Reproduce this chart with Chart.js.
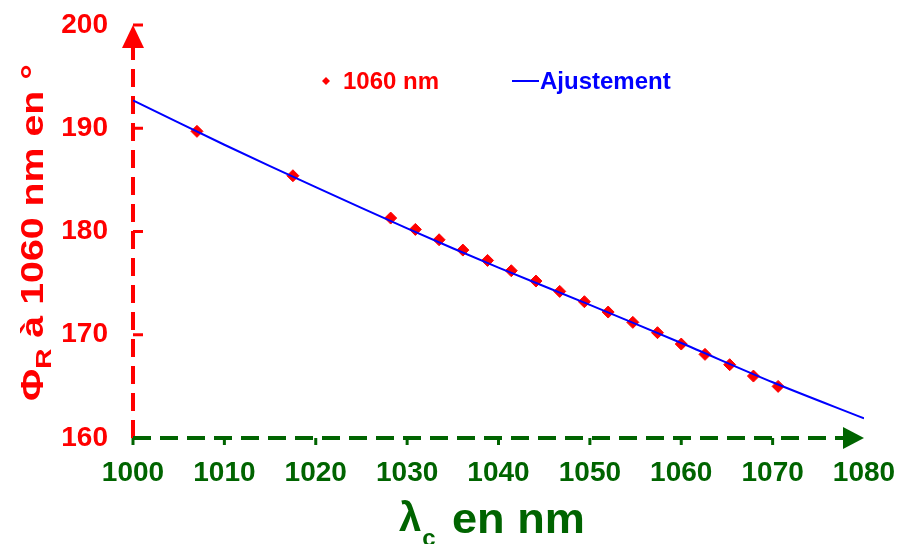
<!DOCTYPE html>
<html>
<head>
<meta charset="utf-8">
<script src="https://cdn.jsdelivr.net/npm/chart.js@4.4.1/dist/chart.umd.min.js"></script>
<style>
  html, body { margin: 0; padding: 0; background: #ffffff; }
  canvas { display: block; }
</style>
</head>
<body>
<canvas id="phaseChart" width="899" height="544"></canvas>
<script>
// cutoff wavelength (nm) and measured phase at 1060 nm (deg)
const lambdaC = [1007.0, 1017.5, 1028.2, 1030.9, 1033.5, 1036.1, 1038.8, 1041.4, 1044.1, 1046.7,
  1049.4, 1052.0, 1054.7, 1057.4, 1060.0, 1062.6, 1065.3, 1067.9, 1070.6];
const phase1060 = [189.7, 185.4, 181.3, 180.2, 179.2, 178.2, 177.2, 176.2, 175.2, 174.2,
  173.2, 172.2, 171.2, 170.2, 169.1, 168.1, 167.1, 166.0, 165.0];

// fitted curve
const fitLambda = [1000, 1010, 1020, 1030, 1040, 1050, 1060, 1070, 1080];
const fitPhase = [192.7, 188.4, 184.3, 180.3, 176.5, 172.9, 169.2, 165.4, 161.9];

const xTicks = [1000, 1010, 1020, 1030, 1040, 1050, 1060, 1070, 1080];
const yTicks = [160, 170, 180, 190, 200];

const RED = "#ff0000";
const GREEN = "#006400";
const BLUE = "#0000ff";
const FONT = "'Liberation Sans', Arial, sans-serif";

// dashed axes with arrow heads and small tick marks
const axesPlugin = {
  id: "arrowAxes",
  beforeDatasetsDraw(chart) {
    const ctx = chart.ctx;
    const xs = chart.scales.x;
    const ys = chart.scales.y;
    const x0 = xs.getPixelForValue(1000);
    const y0 = ys.getPixelForValue(160);
    const yTop = ys.getPixelForValue(200);
    const xEnd = xs.getPixelForValue(1080);

    ctx.save();
    ctx.lineWidth = 4;
    ctx.setLineDash([18, 9]);

    ctx.strokeStyle = RED;
    ctx.beginPath();
    ctx.moveTo(x0, y0);
    ctx.lineTo(x0, yTop + 22);
    ctx.stroke();

    ctx.strokeStyle = GREEN;
    ctx.beginPath();
    ctx.moveTo(x0, y0);
    ctx.lineTo(xEnd - 20, y0);
    ctx.stroke();
    ctx.setLineDash([]);

    // y ticks point inwards
    ctx.lineWidth = 3;
    ctx.strokeStyle = RED;
    yTicks.forEach((v) => {
      if (v === 160) return;
      const py = ys.getPixelForValue(v);
      ctx.beginPath();
      ctx.moveTo(x0, py);
      ctx.lineTo(x0 + 10, py);
      ctx.stroke();
    });

    ctx.strokeStyle = GREEN;
    xTicks.forEach((v) => {
      if (v === 1080) return;
      const px = xs.getPixelForValue(v);
      ctx.beginPath();
      ctx.moveTo(px, y0);
      ctx.lineTo(px, y0 + 7);
      ctx.stroke();
    });

    ctx.fillStyle = RED;
    ctx.beginPath();
    ctx.moveTo(x0 - 11, yTop + 23);
    ctx.lineTo(x0 + 11, yTop + 23);
    ctx.lineTo(x0, yTop);
    ctx.closePath();
    ctx.fill();

    ctx.fillStyle = GREEN;
    ctx.beginPath();
    ctx.moveTo(xEnd - 21, y0 - 11);
    ctx.lineTo(xEnd - 21, y0 + 11);
    ctx.lineTo(xEnd, y0);
    ctx.closePath();
    ctx.fill();
    ctx.restore();
  },
  afterDraw(chart) {
    const ctx = chart.ctx;
    ctx.save();

    // y title, rotated, with subscript R
    ctx.translate(43, 401);
    ctx.rotate(-Math.PI / 2);
    ctx.fillStyle = RED;
    ctx.textBaseline = "alphabetic";
    const big = `bold 31px ${FONT}`;
    const small = `bold 22px ${FONT}`;
    const rest = " à 1060 nm en °";
    ctx.font = big;
    const wPhi = ctx.measureText("Φ").width;
    const wRest = ctx.measureText(rest).width;
    ctx.font = small;
    const wR = ctx.measureText("R").width;
    const stretch = 337 / (wPhi + wR + wRest);
    ctx.scale(stretch, 1);
    ctx.font = big;
    ctx.fillText("Φ", 0, 0);
    ctx.font = small;
    ctx.fillText("R", wPhi, 8);
    ctx.font = big;
    ctx.fillText(rest, wPhi + wR, 0);
    ctx.restore();

    // x title with subscript c
    ctx.save();
    ctx.fillStyle = GREEN;
    ctx.textBaseline = "alphabetic";
    ctx.font = `bold 40px ${FONT}`;
    const wLam = ctx.measureText("λ").width;
    ctx.fillText("λ", 399, 531);
    ctx.font = `bold 24px ${FONT}`;
    ctx.fillText("c", 399 + wLam + 1, 546);
    ctx.font = `bold 42px ${FONT}`;
    const wEn = ctx.measureText("en nm").width;
    ctx.translate(452, 533);
    ctx.scale(133 / wEn, 1);
    ctx.fillText("en nm", 0, 0);
    ctx.restore();

    // legend
    ctx.save();
    ctx.fillStyle = RED;
    ctx.beginPath();
    ctx.moveTo(326, 77);
    ctx.lineTo(330, 81);
    ctx.lineTo(326, 85);
    ctx.lineTo(322, 81);
    ctx.closePath();
    ctx.fill();
    ctx.font = `bold 24px ${FONT}`;
    ctx.textBaseline = "alphabetic";
    ctx.fillText("1060 nm", 343, 89);
    ctx.strokeStyle = BLUE;
    ctx.lineWidth = 2;
    ctx.beginPath();
    ctx.moveTo(512, 81);
    ctx.lineTo(539, 81);
    ctx.stroke();
    ctx.fillStyle = BLUE;
    ctx.fillText("Ajustement", 540, 89);
    ctx.restore();
  },
};

function buildChart() {
  const context = document.getElementById("phaseChart");
  return new Chart(context, {
    type: "scatter",
    data: {
      datasets: [
        {
          label: "Ajustement",
          type: "line",
          data: fitLambda.map((x, i) => ({ x, y: fitPhase[i] })),
          borderColor: BLUE,
          borderWidth: 2,
          pointRadius: 0,
          tension: 0.3,
          fill: false,
        },
        {
          label: "1060 nm",
          data: lambdaC.map((x, i) => ({ x, y: phase1060[i] })),
          pointStyle: "rectRot",
          pointRadius: 6,
          backgroundColor: RED,
          borderColor: RED,
          borderWidth: 1,
        },
      ],
    },
    options: {
      responsive: false,
      animation: false,
      devicePixelRatio: 1,
      layout: { padding: { left: 0, right: 35, top: 25, bottom: 0 } },
      plugins: {
        legend: { display: false },
        tooltip: { enabled: false },
      },
      scales: {
        x: {
          type: "linear",
          min: 1000,
          max: 1080,
          afterBuildTicks: (scale) => { scale.ticks = xTicks.map((value) => ({ value })); },
          afterFit: (scale) => {
            scale.height = 106;
            scale.paddingLeft = 0;
            scale.paddingRight = 0;
          },
          grid: { display: false },
          border: { display: false },
          ticks: {
            color: GREEN,
            font: { family: FONT, size: 28, weight: "bold" },
            padding: 10,
            maxRotation: 0,
            callback: (value) => String(value),
          },
        },
        y: {
          min: 160,
          max: 200,
          afterBuildTicks: (scale) => { scale.ticks = yTicks.map((value) => ({ value })); },
          afterFit: (scale) => {
            scale.width = 133;
            scale.paddingTop = 0;
            scale.paddingBottom = 0;
          },
          grid: { display: false },
          border: { display: false },
          ticks: {
            color: RED,
            font: { family: FONT, size: 28, weight: "bold" },
            padding: 17,
            callback: (value) => String(value),
          },
        },
      },
    },
    plugins: [axesPlugin],
  });
}

document.addEventListener("DOMContentLoaded", () => {
  buildChart();
});
</script>
</body>
</html>
